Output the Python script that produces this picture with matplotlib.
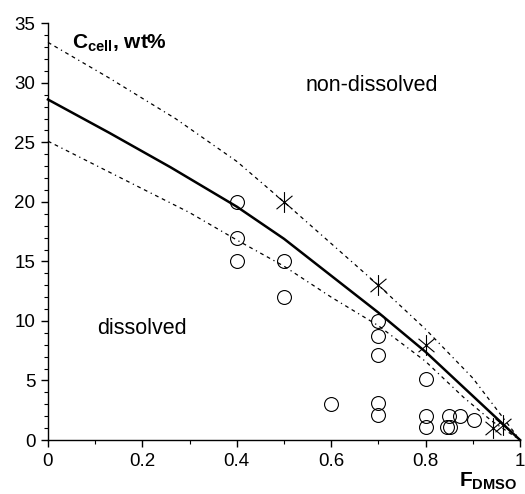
import matplotlib
matplotlib.use("Agg")
import numpy as np
import matplotlib.pyplot as plt
from matplotlib.path import Path
from matplotlib.ticker import MultipleLocator

plt.rcParams['font.family'] = ['Liberation Sans', 'DejaVu Sans']
plt.rcParams['mathtext.fontset'] = 'custom'
plt.rcParams['mathtext.rm'] = 'Liberation Sans'
plt.rcParams['mathtext.bf'] = 'Liberation Sans:bold'

# solubility boundary (solid) and its upper / lower limits (dotted)
mid_x = [0, 0.13, 0.26, 0.4, 0.5, 0.7, 0.8, 1.0]
mid_y = [28.6, 25.8, 22.9, 19.6, 16.9, 10.7, 7.4, 0]
upper_x = [0, 0.13, 0.27, 0.4, 0.5, 0.7, 0.8, 0.9, 1.0]
upper_y = [33.4, 30.4, 27.0, 23.4, 20.0, 13.0, 9.3, 5.2, 0]
lower_x = [0, 0.13, 0.3, 0.4, 0.5, 0.6, 0.7, 0.8, 0.88, 0.94, 1.0]
lower_y = [25.1, 22.5, 19.1, 16.8, 14.6, 12.0, 9.6, 6.6, 3.6, 1.6, 0]

# dissolved samples (circles)
diss_x = [0.4, 0.4, 0.4, 0.5, 0.5, 0.6, 0.7, 0.7, 0.7, 0.7, 0.7,
          0.8, 0.8, 0.8, 0.845, 0.852, 0.85, 0.873, 0.903]
diss_y = [20, 17, 15, 15, 12, 3, 10, 8.7, 7.1, 3.1, 2.1,
          5.1, 2.0, 1.1, 1.1, 1.1, 2.0, 2.0, 1.7]

# non-dissolved samples (stars)
nond_x = [0.5, 0.7, 0.8, 0.943, 0.964]
nond_y = [20, 13, 8.0, 1.05, 1.3]

# star marker: vertical bar plus two diagonals
a = np.radians(40)
c, s = np.cos(a), np.sin(a)
star = Path([(0, -1), (0, 1), (-c, -s), (c, s), (-c, s), (c, -s)],
            [Path.MOVETO, Path.LINETO] * 3)

fig = plt.figure(figsize=(5.25, 4.94), dpi=100)
ax = fig.add_axes([0.0914, 0.1093, 0.8991, 0.8435])

dots = (0, (3, 3, 3, 3, 1, 3))
ax.plot(mid_x, mid_y, color='black', lw=1.8, clip_on=False)
ax.plot(upper_x, upper_y, color='black', lw=0.9, linestyle=dots, clip_on=False)
ax.plot(lower_x, lower_y, color='black', lw=0.9, linestyle=dots, clip_on=False)

ax.plot(diss_x, diss_y, linestyle='none', marker='o', markersize=10,
        markerfacecolor='none', markeredgecolor='black', markeredgewidth=0.8,
        clip_on=False)
ax.plot(nond_x, nond_y, linestyle='none', marker=star, markersize=15,
        color='black', markeredgewidth=0.8, clip_on=False)

ax.set_xlim(0, 1)
ax.set_ylim(0, 35)
ax.xaxis.set_minor_locator(MultipleLocator(0.1))
ax.yaxis.set_major_locator(MultipleLocator(5))
ax.yaxis.set_minor_locator(MultipleLocator(1))
ax.set_xticks([0, 0.2, 0.4, 0.6, 0.8, 1.0])
ax.set_xticklabels(['0', '0.2', '0.4', '0.6', '0.8', '1'])
ax.tick_params(which='major', direction='out', length=5, width=1, labelsize=13.5, pad=4)
ax.tick_params(which='minor', direction='out', length=3, width=0.8)

for side in ['top', 'right']:
    ax.spines[side].set_visible(False)
for side in ['left', 'bottom']:
    ax.spines[side].set_linewidth(1)

ax.text(0.05, 32.9, r'$\mathbf{C_{cell}}$, wt%', fontsize=15, fontweight='bold',
        ha='left', va='baseline')
ax.text(0.686, 29.8, 'non-dissolved', fontsize=15.5, ha='center', va='center')
ax.text(0.2, 9.4, 'dissolved', fontsize=15.5, ha='center', va='center')
fig.text(0.929, 0.004, r'$\mathbf{F_{DMSO}}$', fontsize=15, ha='center', va='bottom')

fig.savefig('out.png', dpi=100)
